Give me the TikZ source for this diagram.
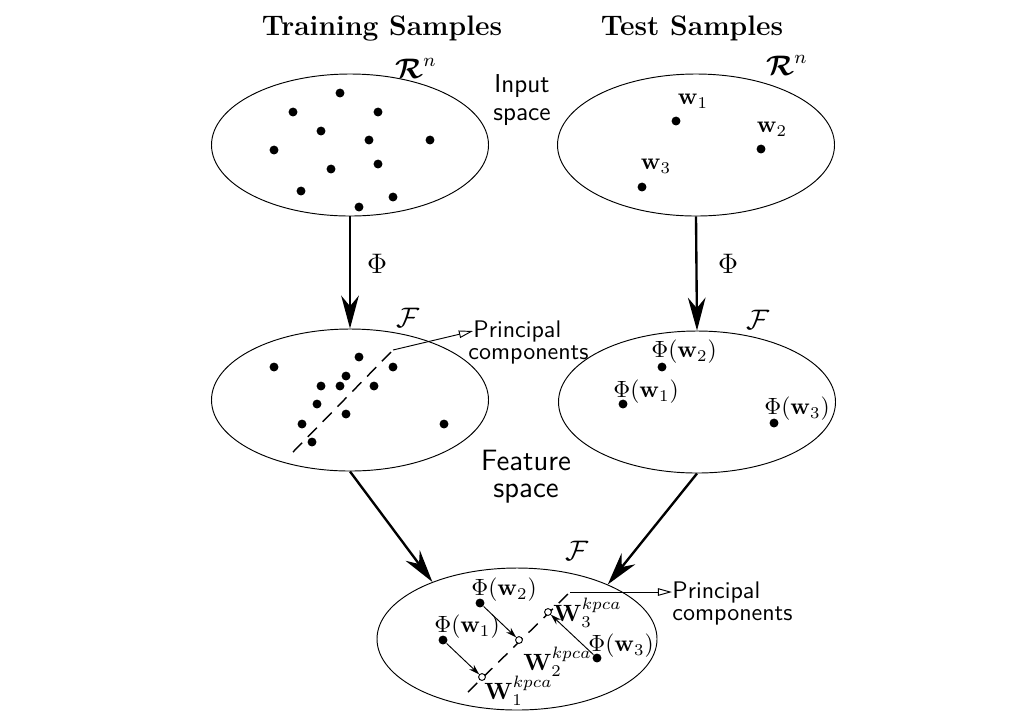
\documentclass[tikz,border=0pt]{standalone}
\usepackage{amsmath,amssymb}
\usepackage{tikz}
\usetikzlibrary{arrows.meta,shapes.geometric,calc}

\begin{document}
\begin{tikzpicture}[x=0.425pt,y=-0.425pt,inner sep=0pt,>=Stealth,
  space/.style={draw,thin,ellipse,minimum width=277*\u,minimum height=142*\u},
  dot/.style={circle,fill,minimum size=3.8pt},
  odot/.style={circle,draw,thin,fill=white,minimum size=2.9pt},
  bigarrow/.style={line width=1pt,-{Stealth[length=14pt,width=7.5pt,inset=4.5pt]}},
  proj/.style={thin,-{Stealth[length=4.5pt,width=2.8pt]}},
  lead/.style={thin,-{Triangle[open,length=6pt,width=3.2pt]}},
  pcline/.style={line width=0.6pt,dash pattern=on 5.5pt off 3.5pt},
  txt/.style={font=\sffamily\fontsize{10.2}{12}\selectfont,align=center}]
  % one pixel of the sketch
  \def\u{0.425pt}
  \useasboundingbox (0,0) rectangle (1020,722);

  % headings
  \node[font=\large\bfseries] (hTrain) at (382,28) {Training Samples};
  \node[font=\large\bfseries] (hTest) at (692,28) {Test Samples};

  % input space
  \node[space] (inL) at (350,145) {};
  \node[space] (inR) at (696,145) {};
  \node[font=\large] (rnL) at (416,68) {$\boldsymbol{\mathcal{R}}^n$};
  \node[font=\large] (rnR) at (787,65) {$\boldsymbol{\mathcal{R}}^n$};
  \node[txt,font=\sffamily\fontsize{11}{12}\selectfont] (inLbl) at (522,100) {Input\\space};
  \foreach \x/\y [count=\i] in {340/93,293/112,378/112,321/131,369/140,430/140,
      274/150,378/164,331/169,301/191,393/197,359/207}
    \node[dot] (a\i) at (\x,\y) {};
  \node[dot] (w1) at (676,121) {};
  \node[dot] (w2) at (761,149) {};
  \node[dot] (w3) at (642,187) {};
  \node (lw1) at (693,101) {$\mathbf{w}_1$};
  \node (lw2) at (772,129) {$\mathbf{w}_2$};
  \node (lw3) at (656,166) {$\mathbf{w}_3$};

  % feature space
  \node[space] (ftL) at (350,400) {};
  \node[space] (ftR) at (697,402) {};
  \node[font=\large] (fL) at (408,318) {$\mathcal{F}$};
  \node[font=\large] (fR) at (758,320) {$\mathcal{F}$};
  \foreach \x/\y [count=\i] in {274/367,359/357,393/367,346/376,321/386,340/386,
      374/386,317/404,346/414,302/424,444/424,312/442}
    \node[dot] (b\i) at (\x,\y) {};
  \coordinate (pcL1) at (293,452);
  \coordinate (pcL2) at (393,350);
  \draw[pcline] (pcL1) -- (pcL2);
  \node[txt,anchor=west] (prL) at (473,331) {Principal};
  \node[txt,anchor=base west] (coL) at ($(prL.base west)+(-5,22)$) {components};
  \draw[lead] (pcL2) -- (prL.west);

  \node[dot] (v2) at (662,367) {};
  \node[dot] (v1) at (623,404) {};
  \node[dot] (v3) at (774,423) {};
  \node (lv2) at (684,352) {$\Phi(\mathbf{w}_2)$};
  \node (lv1) at (646,392) {$\Phi(\mathbf{w}_1)$};
  \node (lv3) at (797,409) {$\Phi(\mathbf{w}_3)$};

  \node[txt,font=\sffamily\fontsize{12.5}{11.5}\selectfont] (ftLbl) at (526,477) {Feature\\space};

  % mapping
  \draw[bigarrow] (inL.south) -- (ftL.north);
  \draw[bigarrow] (inR.south) -- (ftR.north);
  \node[font=\large] (phiL) at (377,264) {$\Phi$};
  \node[font=\large] (phiR) at (728,264) {$\Phi$};

  % projection onto the principal components
  \node[space,minimum width=280*\u] (ftB) at (517,639) {};
  \node[font=\large] (fB) at (577,551) {$\mathcal{F}$};
  \draw[bigarrow] (ftL.south) -- (ftB.146);
  \draw[bigarrow] (ftR.south) -- (ftB.31);

  \coordinate (pcB1) at (468,692);
  \coordinate (pcB2) at (570,592);
  \draw[pcline] (pcB1) -- (pcB2);
  \node[txt,anchor=west] (prB) at (672,592) {Principal};
  \node[txt,anchor=base west] (coB) at ($(prB.base west)+(0,22)$) {components};
  \draw[lead] (pcB2) -- (prB.west);

  \node[dot] (q1) at (443,640) {};
  \node[dot] (q2) at (480,603) {};
  \node[dot] (q3) at (597,658) {};
  \node[odot] (c1) at (482,677) {};
  \node[odot] (c2) at (519,640) {};
  \node[odot] (c3) at (548,612) {};
  \draw[proj] (q1) -- (c1);
  \draw[proj] (q2) -- (c2);
  \draw[proj] (q3) -- (c3);
  \node (lq2) at (504,590) {$\Phi(\mathbf{w}_2)$};
  \node (lq1) at (467,627) {$\Phi(\mathbf{w}_1)$};
  \node (lq3) at (621,646) {$\Phi(\mathbf{w}_3)$};
  \node[anchor=west] (lc3) at (553,613) {$\mathbf{W}_3^{kpca}$};
  \node[anchor=west] (lc2) at (523,662) {$\mathbf{W}_2^{kpca}$};
  \node[anchor=west] (lc1) at (484,691) {$\mathbf{W}_1^{kpca}$};
\end{tikzpicture}
\end{document}
